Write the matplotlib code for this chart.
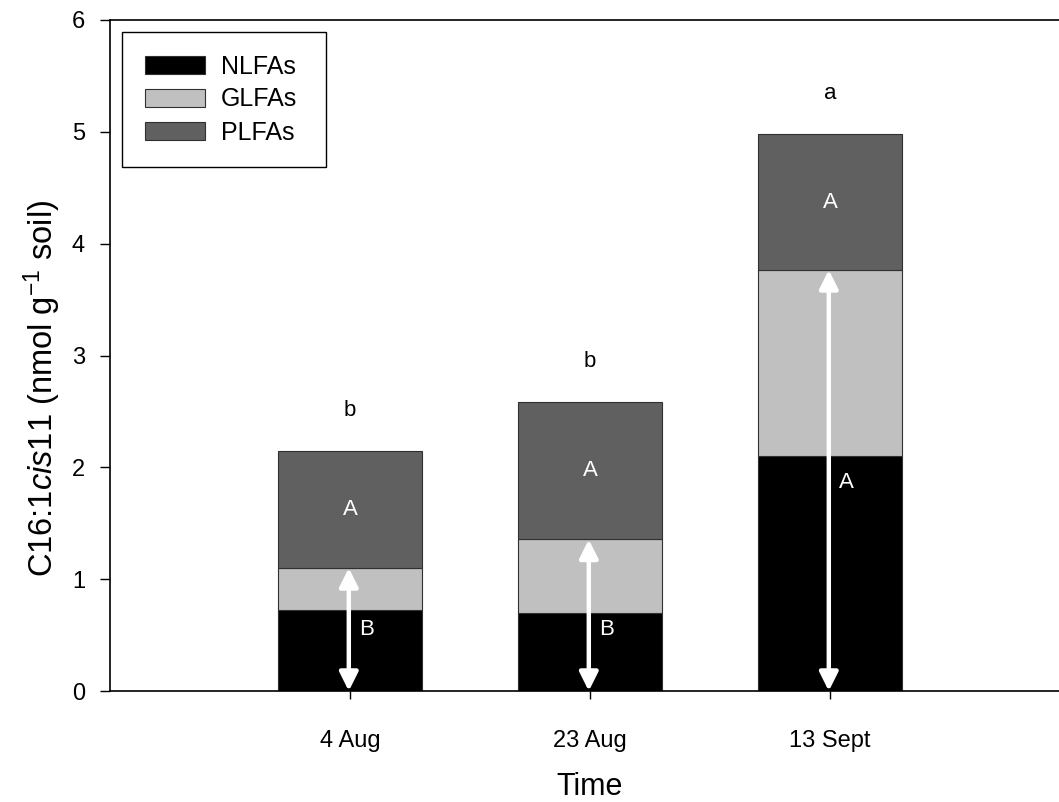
import matplotlib
matplotlib.use("Agg")
import matplotlib.pyplot as plt
import numpy as np

plt.rcParams['font.family'] = ['Liberation Sans', 'DejaVu Sans']
plt.rcParams['mathtext.fontset'] = 'custom'
plt.rcParams['mathtext.rm'] = 'Liberation Sans'
plt.rcParams['mathtext.it'] = 'Liberation Sans:italic'

# Sampling dates and fatty-acid pools (nmol g-1 soil)
dates = ["4 Aug", "23 Aug", "13 Sept"]
nlfa = [0.72, 0.70, 2.10]
glfa = [0.38, 0.655, 1.665]
plfa = [1.05, 1.23, 1.215]

# Significance letters
total_letters = ["b", "b", "a"]
plfa_letters = ["A", "A", "A"]
nlfa_letters = ["B", "B", "A"]
nlfa_letter_y = [0.55, 0.55, 1.86]

colors = {"NLFAs": "#000000", "GLFAs": "#c0c0c0", "PLFAs": "#606060"}

W, H = 1059, 802
fig = plt.figure(figsize=(W / 100, H / 100), dpi=100)
ax = fig.add_axes([110 / W, 111 / H, 960 / W, 671 / H])

x = np.arange(1, len(dates) + 1)
nl = np.array(nlfa)
gl = np.array(glfa)
pl = np.array(plfa)
width = 0.6
edge = dict(edgecolor="#303030", linewidth=0.8)

ax.bar(x, nl, width, color=colors["NLFAs"], label="NLFAs", **edge)
ax.bar(x, gl, width, bottom=nl, color=colors["GLFAs"], label="GLFAs", **edge)
ax.bar(x, pl, width, bottom=nl + gl, color=colors["PLFAs"], label="PLFAs", **edge)

tot = nl + gl + pl
for i, xi in enumerate(x):
    # double-headed arrow spanning NLFA + GLFA
    ax.annotate("", xy=(xi - 0.005, nl[i] + gl[i]), xytext=(xi - 0.005, 0),
                arrowprops=dict(arrowstyle="<|-|>", color="white", lw=3.2,
                                mutation_scale=28, shrinkA=0, shrinkB=0),
                zorder=5)
    ax.text(xi, tot[i] + 0.36, total_letters[i], ha="center", va="center",
            fontsize=16, color="black")
    ax.text(xi, nl[i] + gl[i] + pl[i] / 2, plfa_letters[i], ha="center",
            va="center", fontsize=16, color="white", zorder=6)
    ax.text(xi + 0.07, nlfa_letter_y[i], nlfa_letters[i], ha="center",
            va="center", fontsize=16, color="white", zorder=6)

ax.set_xlim(0, 4)
ax.set_ylim(0, 6)
ax.set_xticks(x)
ax.set_xticklabels(dates, fontsize=17)
ax.set_yticks(range(0, 7))
ax.tick_params(axis="y", direction="out", length=7, width=1, labelsize=17, pad=11)
ax.tick_params(axis="x", direction="out", length=6, width=1, pad=22)
for s in ax.spines.values():
    s.set_linewidth(1.2)

fig.text(590 / W, 1 - 787 / H, "Time", fontsize=22, ha="center", va="center")
fig.text(42 / W, 1 - 388 / H, r"C16:1$\it{cis}$11 (nmol g$^{\mathrm{-1}}$ soil)",
         fontsize=23.5, rotation=90, ha="center", va="center")

leg = ax.legend(loc="upper left",
                bbox_to_anchor=(122 / W, 1 - 166 / H, 204 / W, 134 / H),
                bbox_transform=fig.transFigure, mode="expand", borderaxespad=0,
                fancybox=False, edgecolor="black", fontsize=18,
                handlelength=2.4, handleheight=0.75, labelspacing=0.36,
                borderpad=0.9, handletextpad=0.65, framealpha=1)
leg.get_frame().set_linewidth(1.0)
for p in leg.get_patches():
    p.set_edgecolor("#303030")

fig.savefig("out.png", dpi=100)
